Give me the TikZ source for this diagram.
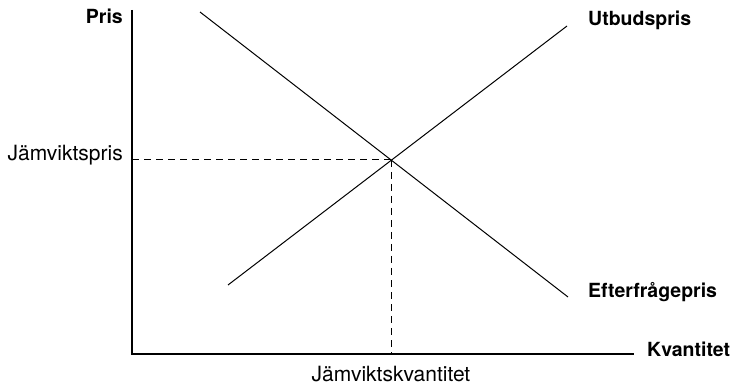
\documentclass[tikz,border=0pt]{standalone}
\usepackage{fontspec}
\setmainfont{TeX Gyre Heros}
\usepackage{tikz}
\usetikzlibrary{arrows.meta,positioning,calc}
\tikzset{
  axis/.style={line width=1.3pt},
  curve/.style={line width=1pt},
  guide/.style={line width=1pt,dash pattern=on 7pt off 5pt},
  axlabel/.style={font=\fontsize{19.5}{22}\selectfont\bfseries,inner sep=0pt},
  eqlabel/.style={font=\fontsize{21}{24}\selectfont,inner sep=0pt}
}

\begin{document}
\begin{tikzpicture}[x=1pt,y=-1pt,>=Stealth]
  \useasboundingbox (0,0) rectangle (733,387);
  % axes
  \coordinate (o) at (132,354);
  \coordinate (ytop) at (132,10);
  \coordinate (xend) at (634,354);
  \draw[axis] (ytop) -- (o) -- (xend);
  % supply and demand
  \coordinate (s1) at (228,285);
  \coordinate (s2) at (567,26);
  \coordinate (d1) at (200,12);
  \coordinate (d2) at (568,297);
  \draw[curve] (s1) -- (s2);
  \draw[curve] (d1) -- (d2);
  % equilibrium
  \coordinate (eq) at (391,160);
  \coordinate (eqy) at (132,160);
  \coordinate (eqx) at (391,354);
  \draw[guide] (eqy) -- (eq);
  \draw[guide] (eq) -- (eqx);
  % labels
  \node[axlabel,anchor=base east] (pris) at (123,24) {Pris};
  \node[axlabel,anchor=base west] (utbud) at (588,26) {Utbudspris};
  \node[axlabel,anchor=base west] (efter) at (588,298) {Efterfrågepris};
  \node[axlabel,anchor=base west] (kvant) at (647,356) {Kvantitet};
  \node[eqlabel,anchor=base east] (jpris) at (123,161) {Jämviktspris};
  \node[eqlabel,anchor=base] (jkvant) at (391,381) {Jämviktskvantitet};
\end{tikzpicture}
\end{document}
